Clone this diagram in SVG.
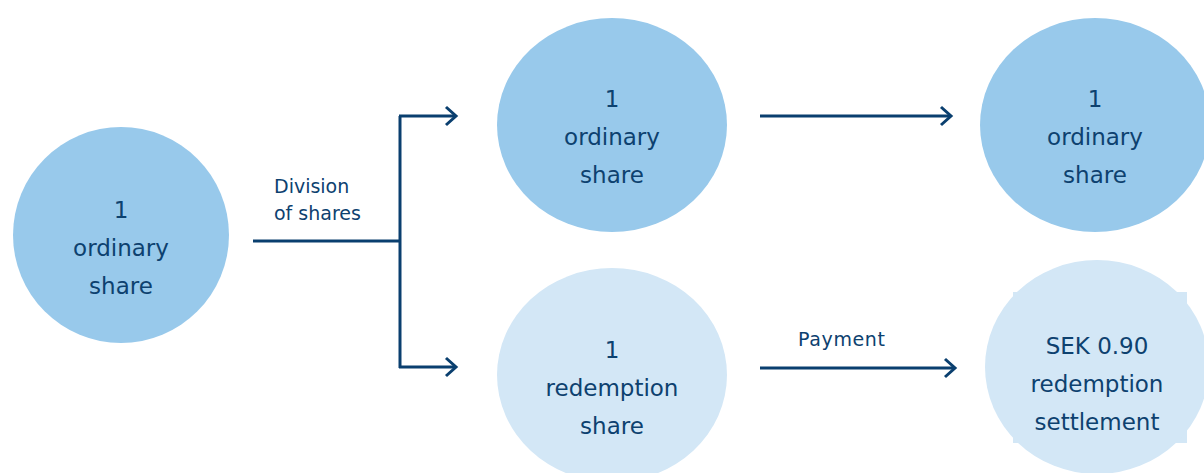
<svg xmlns="http://www.w3.org/2000/svg" width="1204" height="473" viewBox="0 0 1204 473">
<style>
.dark{fill:#98c9eb}
.light{fill:#d3e7f6}
.t{font-family:"DejaVu Sans","Liberation Sans",sans-serif;font-size:23px;fill:#0d416f;text-anchor:middle}
.lbl{font-family:"DejaVu Sans","Liberation Sans",sans-serif;font-size:19px;fill:#0d416f}
.c{stroke:#0a3f6f;stroke-width:3;fill:none}
</style>
<defs>
<marker id="ah" markerWidth="16" markerHeight="22" refX="13" refY="11" orient="auto" markerUnits="userSpaceOnUse">
<path d="M3,2 L13,11 L3,20" stroke="#0a3f6f" stroke-width="3" fill="none"/>
</marker>
</defs>
<rect width="1204" height="473" fill="#ffffff"/>
<g id="connectors">
<path class="c" d="M253,241 H401"/>
<path class="c" d="M400,116 V368"/>
<path class="c" d="M399,116 H456" marker-end="url(#ah)"/>
<path class="c" d="M399,367 H456" marker-end="url(#ah)"/>
<path class="c" d="M760,116 H951" marker-end="url(#ah)"/>
<path class="c" d="M760,368 H955" marker-end="url(#ah)"/>
<text class="lbl" x="274" y="193">Division</text>
<text class="lbl" x="274" y="220">of shares</text>
<text class="lbl" x="798" y="346" textLength="87">Payment</text>
</g>
<g id="n1">
<ellipse class="dark" cx="121" cy="235" rx="108" ry="108"/>
<text class="t" x="121" y="218">1</text>
<text class="t" x="121" y="256">ordinary</text>
<text class="t" x="121" y="294">share</text>
</g>
<g id="n2">
<ellipse class="dark" cx="612" cy="125" rx="115" ry="107"/>
<text class="t" x="612" y="107">1</text>
<text class="t" x="612" y="145">ordinary</text>
<text class="t" x="612" y="183">share</text>
</g>
<g id="n3">
<ellipse class="dark" cx="1095" cy="125" rx="115" ry="107"/>
<text class="t" x="1095" y="107">1</text>
<text class="t" x="1095" y="145">ordinary</text>
<text class="t" x="1095" y="183">share</text>
</g>
<g id="n4">
<ellipse class="light" cx="612" cy="375" rx="115" ry="107"/>
<text class="t" x="612" y="358">1</text>
<text class="t" x="612" y="396">redemption</text>
<text class="t" x="612" y="434">share</text>
</g>
<g id="n5">
<rect class="light" x="1013" y="292" width="174" height="151"/>
<ellipse class="light" cx="1097" cy="367" rx="112" ry="107"/>
<text class="t" x="1097" y="354">SEK 0.90</text>
<text class="t" x="1097" y="392">redemption</text>
<text class="t" x="1097" y="430">settlement</text>
</g>
</svg>
